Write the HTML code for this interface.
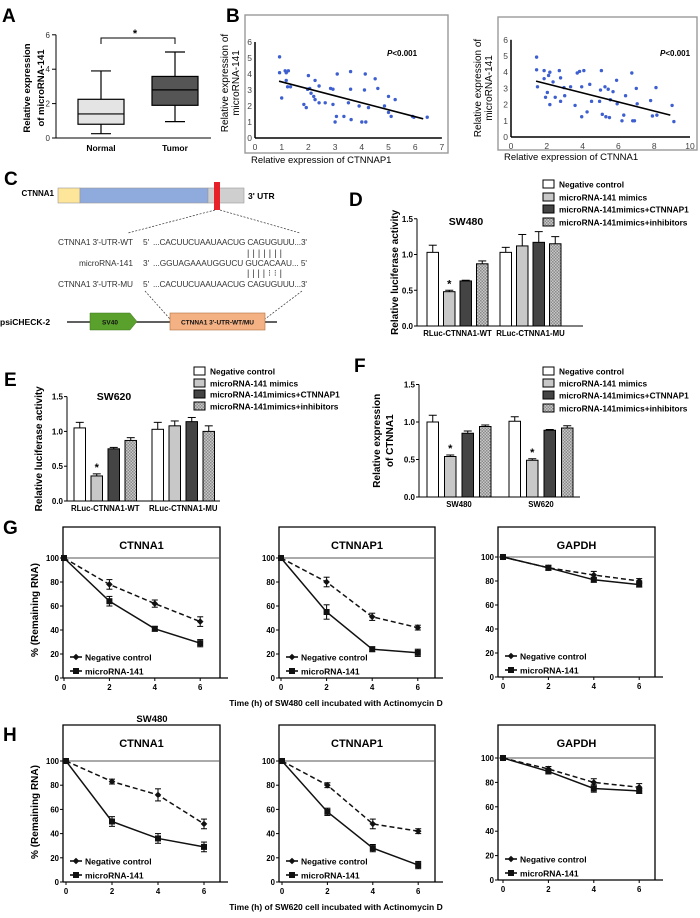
<!DOCTYPE html>
<html><head><meta charset="utf-8">
<style>
body{margin:0;background:#fff}
svg{display:block;font-family:"Liberation Sans",sans-serif}
</style></head>
<body>
<svg id="fig" width="700" height="918" viewBox="0 0 700 918">
<defs>
<pattern id="chk" width="3" height="3" patternUnits="userSpaceOnUse"><rect width="3" height="3" fill="#c8c8c8"/><rect width="1.5" height="1.5" fill="#8a8a8a"/><rect x="1.5" y="1.5" width="1.5" height="1.5" fill="#8a8a8a"/></pattern>
</defs>
<!-- Panel labels -->
<text x="2" y="22" font-size="19" font-weight="bold">A</text>
<text x="226" y="22" font-size="19" font-weight="bold">B</text>
<text x="4" y="185" font-size="19" font-weight="bold">C</text>
<text x="349" y="206" font-size="19" font-weight="bold">D</text>
<text x="4" y="386" font-size="19" font-weight="bold">E</text>
<text x="354" y="372" font-size="19" font-weight="bold">F</text>
<text x="3" y="534" font-size="19" font-weight="bold">G</text>
<text x="3" y="741" font-size="19" font-weight="bold">H</text>

<!-- Panel C diagram -->
<g font-size="8.3" fill="#333">
  <text x="54" y="196" text-anchor="end" font-size="8" font-weight="bold" fill="#000">CTNNA1</text>
  <rect x="58" y="188" width="22" height="15" fill="#fde59a" stroke="#999" stroke-width="0.6"/>
  <rect x="80" y="188" width="128" height="15" fill="#8faadc" stroke="#999" stroke-width="0.6"/>
  <rect x="208" y="188" width="36" height="15" fill="#cfcfcf" stroke="#999" stroke-width="0.6"/>
  <rect x="214" y="182" width="6" height="28" fill="#e8202a"/>
  <text x="248" y="199" font-size="8.5" font-weight="bold" fill="#000">3' UTR</text>
  <line x1="215" y1="210" x2="128" y2="233" stroke="#333" stroke-width="0.7" stroke-dasharray="2,1.5"/>
  <line x1="220" y1="210" x2="300" y2="233" stroke="#333" stroke-width="0.7" stroke-dasharray="2,1.5"/>
  <text x="133" y="245" text-anchor="end" textLength="75">CTNNA1 3'-UTR-WT</text>
  <text x="143" y="245">5'</text>
  <text x="153" y="245" textLength="154">...CACUUCUAAUAACUG CAGUGUUU...3'</text>
  <text x="247" y="256" textLength="35" font-size="9">|||||||</text>
  <text x="133" y="266" text-anchor="end" textLength="54">microRNA-141</text>
  <text x="143" y="266">3'</text>
  <text x="153" y="266" textLength="154">...GGUAGAAAUGGUCU GUCACAAU... 5'</text>
  <text x="247" y="276" textLength="35" font-size="9">||||⁝⁝|</text>
  <text x="133" y="287" text-anchor="end" textLength="75">CTNNA1 3'-UTR-MU</text>
  <text x="143" y="287">5'</text>
  <text x="153" y="287" textLength="154">...CACUUCUAAUAACUG CAGUGUUU...3'</text>
  <line x1="145" y1="291" x2="170" y2="319" stroke="#333" stroke-width="0.7" stroke-dasharray="2,1.5"/>
  <line x1="302" y1="291" x2="265" y2="319" stroke="#333" stroke-width="0.7" stroke-dasharray="2,1.5"/>
  <text x="0" y="325" font-size="8.5" font-weight="bold" fill="#000">psiCHECK-2</text>
  <line x1="67" y1="322" x2="277" y2="322" stroke="#000" stroke-width="1.3"/>
  <polygon points="90,313 130,313 137,321.5 130,330 90,330" fill="#5aa02c" stroke="#3d7a1c" stroke-width="0.5"/>
  <text x="110" y="324.5" font-size="6.5" font-weight="bold" fill="#111" text-anchor="middle">SV40</text>
  <rect x="170" y="313" width="95" height="17" fill="#f4b183" stroke="#b07040" stroke-width="0.6"/>
  <text x="217.5" y="324.5" font-size="6.5" font-weight="bold" fill="#111" text-anchor="middle">CTNNA1 3'-UTR-WT/MU</text>
</g>
</svg>
<script>
// ---------- DATA ----------
// Panel A
const aCats = ['Normal', 'Tumor'];
const aMin = [0.25, 0.95];
const aQ1 = [0.8, 1.9];
const aMed = [1.4, 2.8];
const aQ3 = [2.25, 3.58];
const aMax = [3.9, 5.0];
const aTicks = [0, 2, 4, 6];
// Panel B left
const b1X = [0.92,0.92,1.13,1.25,1.17,1.0,1.17,1.22,1.33,1.97,2.05,2.0,1.83,1.92,2.1,2.2,2.25,2.25,2.4,2.4,2.63,2.83,2.92,2.92,3.0,3.05,3.08,3.33,3.5,3.6,3.58,3.58,3.9,4.0,4.15,4.13,4.1,4.25,4.5,4.6,4.85,5.0,5.0,5.1,5.25,5.9,5.95,6.45];
const b1Y = [5.07,4.08,4.2,4.2,4.08,2.5,3.6,3.2,3.2,3.04,3.1,3.9,2.1,1.9,2.8,2.6,2.4,3.6,3.25,2.2,2.2,3.1,3.05,2.1,1.0,1.35,4.0,1.35,2.2,1.15,4.15,3.05,2.0,1.0,1.0,4.0,3.0,1.9,3.7,3.1,2.0,2.6,1.6,1.35,2.4,1.35,1.3,1.3];
const b1Fit = [0.9, 3.55, 6.3, 1.2];
const b1XTicks = [0,1,2,3,4,5,6,7];
const b1YTicks = [0,1,2,3,4,5,6];
// Panel B right
const b2X = [1.43,1.43,1.85,2.17,1.48,1.85,2.1,1.93,2.03,2.35,2.17,2.47,2.77,2.7,2.77,2.96,3.0,3.33,3.7,3.83,3.58,3.95,4.07,3.95,4.25,4.4,4.5,4.95,5.0,5.05,5.1,5.3,5.25,5.43,5.5,5.55,5.7,5.9,5.93,6.2,6.3,6.4,6.75,6.8,6.9,7.0,7.05,7.8,7.9,8.1,8.15,9.0,9.1];
const b2Y = [4.93,4.15,4.1,4.0,3.1,3.6,3.8,2.45,2.75,3.4,2.0,2.45,3.65,4.1,2.2,3.05,2.55,3.1,3.95,4.05,1.95,3.1,4.1,1.25,1.55,3.25,2.2,2.2,2.9,4.1,1.4,1.25,3.1,2.95,1.2,2.3,2.8,3.5,2.05,1.0,1.35,2.55,3.95,1.0,1.0,3.0,2.05,2.25,1.3,3.05,1.35,1.95,0.95];
const b2Fit = [1.4, 3.45, 8.9, 1.35];
const b2XTicks = [0,2,4,6,8,10];
const b2YTicks = [0,1,2,3,4,5,6];
// Bar charts
const legendLabels = ['Negative control','microRNA-141 mimics','microRNA-141mimics+CTNNAP1','microRNA-141mimics+inhibitors'];
const barTicks = [0, 0.5, 1.0, 1.5];
const dCats = ['RLuc-CTNNA1-WT','RLuc-CTNNA1-MU'];
const dNC = [1.03, 1.03], dNCe = [0.1, 0.07];
const dMim = [0.48, 1.12], dMime = [0.02, 0.16];
const dCt = [0.63, 1.17], dCte = [0.01, 0.15];
const dInh = [0.87, 1.15], dInhe = [0.04, 0.1];
const eCats = ['RLuc-CTNNA1-WT','RLuc-CTNNA1-MU'];
const eNC = [1.05, 1.03], eNCe = [0.08, 0.1];
const eMim = [0.36, 1.08], eMime = [0.03, 0.07];
const eCt = [0.75, 1.14], eCte = [0.02, 0.06];
const eInh = [0.87, 1.0], eInhe = [0.04, 0.08];
const fCats = ['SW480','SW620'];
const fNC = [1.0, 1.01], fNCe = [0.09, 0.06];
const fMim = [0.54, 0.49], fMime = [0.02, 0.02];
const fCt = [0.85, 0.89], fCte = [0.03, 0.01];
const fInh = [0.94, 0.92], fInhe = [0.02, 0.03];
// Line charts
const hours = [0, 2, 4, 6];
const lineYTicks = [0, 20, 40, 60, 80, 100];
const g1NC = [100,78,62,47], g1NCe = [0,4,3,4], g1Mi = [100,64,41,29], g1Mie = [0,4,2,3];
const g2NC = [100,80,51,42], g2NCe = [0,4,3,2], g2Mi = [100,55,24,21], g2Mie = [0,6,2,3];
const g3NC = [100,91,85,80], g3NCe = [0,2,3,2], g3Mi = [100,91,81,77], g3Mie = [0,2,2,2];
const h1NC = [100,83,72,48], h1NCe = [0,2,5,4], h1Mi = [100,50,36,29], h1Mie = [0,4,4,4];
const h2NC = [100,80,48,42], h2NCe = [0,2,4,2], h2Mi = [100,58,28,14], h2Mie = [0,3,3,3];
const h3NC = [100,91,80,76], h3NCe = [0,2,3,3], h3Mi = [100,89,75,73], h3Mie = [0,2,3,2];

// ---------- HELPERS ----------
const NS = 'http://www.w3.org/2000/svg';
const svg = document.getElementById('fig');
function mk(tag, attrs, parent) {
  const e = document.createElementNS(NS, tag);
  for (const k in attrs) e.setAttribute(k, attrs[k]);
  (parent || svg).appendChild(e);
  return e;
}
function grp(name) {
  const g = mk('g', {});
  
  
  return g;
}
function ln(p, x1, y1, x2, y2, sw, name, extra) {
  const a = {x1:x1, y1:y1, x2:x2, y2:y2, stroke:'#000', 'stroke-width':sw||1};
  if (extra) for (const k in extra) a[k] = extra[k];
  const e = mk('line', a, p);
  
  
  return e;
}
function tx(p, x, y, s, size, name, anchor, bold, fill, rot) {
  const e = mk('text', {x:x, y:y, 'font-size':size, 'text-anchor':anchor||'start', 'font-weight':bold?'bold':'normal', fill:fill||'#000'}, p);
  if (rot) e.setAttribute('transform', 'rotate(-90 ' + x + ' ' + y + ')');
  e.textContent = s;
  
  
  return e;
}

// ---------- PANEL A ----------
(function(){
  const g = grp('panel-a-boxplot');
  const yA = v => 138 - 17.2 * v;
  const xA = i => 101 + 74 * i;
  ln(g, 56, yA(6), 56, 138, 1, 'y-axis');
  ln(g, 56, 138, 211, 138, 1, 'x-axis');
  aTicks.forEach(t => {
    ln(g, 52, yA(t), 56, yA(t), 1, 'y-tick');
    tx(g, 50, yA(t) + 3, String(t), 8, 'y-tick-label', 'end', false, '#333');
  });
  aCats.forEach((c, i) => {
    const x = xA(i), w = 46;
    ln(g, x, yA(aMax[i]), x, yA(aQ3[i]), 1.2, 'whisker-upper');
    ln(g, x, yA(aQ1[i]), x, yA(aMin[i]), 1.2, 'whisker-lower');
    ln(g, x - 10, yA(aMax[i]), x + 10, yA(aMax[i]), 1.2, 'whisker-cap');
    ln(g, x - 10, yA(aMin[i]), x + 10, yA(aMin[i]), 1.2, 'whisker-cap');
    const r = mk('rect', {x:x - w/2, y:yA(aQ3[i]), width:w, height:yA(aQ1[i]) - yA(aQ3[i]), fill:i ? '#555' : '#e4e4e4', stroke:'#000', 'stroke-width':1.2}, g);
    
    
    ln(g, x - w/2, yA(aMed[i]), x + w/2, yA(aMed[i]), 1.2, 'median-line');
    tx(g, x, 151, c, 8.5, 'x-category-label', 'middle', true);
  });
  const br = mk('path', {d:'M' + xA(0) + ' 44V38H' + xA(1) + 'V44', fill:'none', stroke:'#000', 'stroke-width':1}, g);
  
  
  tx(g, 135, 37, '*', 11, 'significance-star', 'middle', true);
  tx(g, 30, 88, 'Relative expression', 9.5, 'y-axis-title', 'middle', true, '#000', true);
  tx(g, 44, 88, 'of microRNA-141', 9.5, 'y-axis-title', 'middle', true, '#000', true);
})();

// ---------- PANEL B ----------
function scatter(name, frame, ax, xs, ys, fit, xt, yt, xlab, ylabX, xlabY, ylabY) {
  const g = grp(name);
  const fr = mk('rect', {x:frame[0], y:frame[1], width:frame[2], height:frame[3], fill:'none', stroke:'#999', 'stroke-width':1.4}, g);
  
  
  const X = v => ax.x0 + ax.sx * v, Y = v => ax.y0 - ax.sy * v;
  ln(g, X(0), Y(yt[yt.length-1]), X(0), Y(0), 1.5, 'y-axis');
  ln(g, X(0), Y(0), X(xt[xt.length-1]), Y(0), 1.5, 'x-axis');
  yt.forEach(t => {
    tx(g, X(0) - 3, Y(t) + 3, String(t), 8.5, 'y-tick-label', 'end', false, '#444');
  });
  xt.forEach(t => {
    tx(g, X(t), Y(0) + 12, String(t), 8.5, 'x-tick-label', 'middle', false, '#444');
  });
  xs.forEach((v, i) => {
    const c = mk('circle', {cx:X(v), cy:Y(ys[i]), r:1.7, fill:'#3d5fcf'}, g);
    
    
  });
  ln(g, X(fit[0]), Y(fit[1]), X(fit[2]), Y(fit[3]), 1.6, 'regression-line');
  const p = tx(g, ax.px, 56, '', 8, 'p-value-label', 'start', true);
  p.innerHTML = '<tspan font-style="italic">P</tspan>&lt;0.001';
  tx(g, ylabX, ylabY, 'Relative expression of', 10, 'y-axis-title', 'middle', false, '#000', true);
  tx(g, ylabX + 11, ylabY, 'microRNA-141', 10, 'y-axis-title', 'middle', false, '#000', true);
  tx(g, frame[0] + 6, xlabY, xlab, 9.5, 'x-axis-title', 'start', false);
}
scatter('panel-b-scatter-ctnnap1', [245, 15, 203, 138], {x0:255, sx:26.7, y0:138, sy:16, px:387}, b1X, b1Y, b1Fit, b1XTicks, b1YTicks, 'Relative expression of CTNNAP1', 228, 163, 83);
scatter('panel-b-scatter-ctnna1', [498, 17, 199, 133], {x0:511, sx:17.9, y0:137, sy:16.2, px:660}, b2X, b2Y, b2Fit, b2XTicks, b2YTicks, 'Relative expression of CTNNA1', 481, 160, 88);

// ---------- BAR CHARTS ----------
const barFills = ['#fff', '#c8c8c8', '#444', 'url(#chk)'];
function legend(g, x, ys) {
  legendLabels.forEach((l, i) => {
    const r = mk('rect', {x:x, y:ys[i] - 4, width:11, height:8, fill:barFills[i], stroke:'#000', 'stroke-width':1}, g);
    
    
    tx(g, x + 16, ys[i] + 3.5, l, 8.3, 'legend-entry', 'start', true);
  });
}
function barChart(name, ax, cats, vals, errs, starIdx, title, ylab, legX, legYs) {
  const g = grp(name);
  const Y = v => ax.y0 - ax.s * v;
  ln(g, ax.x, Y(1.5), ax.x, ax.y0, 1, 'y-axis');
  ln(g, ax.x, ax.y0, ax.xe, ax.y0, 1, 'x-axis');
  barTicks.forEach(t => {
    ln(g, ax.x - 3, Y(t), ax.x, Y(t), 1, 'y-tick');
    tx(g, ax.x - 4, Y(t) + 3, t.toFixed(1), 8, 'y-tick-label', 'end', true);
  });
  cats.forEach((c, gi) => {
    const gx = ax.g[gi];
    vals.forEach((arr, si) => {
      const x = gx + si * ax.step, v = arr[gi], e = errs[si][gi];
      const r = mk('rect', {x:x, y:Y(v), width:ax.w, height:ax.y0 - Y(v), fill:barFills[si], stroke:'#000', 'stroke-width':1}, g);
      
      
      ln(g, x + ax.w/2, Y(v), x + ax.w/2, Y(v + e), 1, 'error-bar');
      ln(g, x + ax.w/2 - 4, Y(v + e), x + ax.w/2 + 4, Y(v + e), 1, 'error-cap');
      if (si === 1 && starIdx.indexOf(gi) >= 0) tx(g, x + ax.w/2, Y(v + e) - 3, '*', 11, 'significance-star', 'middle', true);
    });
    tx(g, gx + (ax.step * 3 + ax.w) / 2, ax.y0 + 10, c, 7.8, 'x-category-label', 'middle', true);
  });
  if (title) tx(g, title[0], title[1], title[2], 10.5, 'chart-title', 'middle', true);
  ylab.forEach(l => tx(g, l[0], ax.y0 - 0.75 * ax.s, l[1], 10, 'y-axis-title', 'middle', true, '#000', true));
  legend(g, legX, legYs);
}
barChart('panel-d-luciferase-sw480', {x:417, xe:583, y0:326, s:71.5, g:[427, 500], step:16.5, w:11.5}, dCats,
  [dNC, dMim, dCt, dInh], [dNCe, dMime, dCte, dInhe], [0], [466, 225, 'SW480'], [[398, 'Relative luciferase activity']], 543, [184, 197, 209, 222]);
barChart('panel-e-luciferase-sw620', {x:67, xe:220, y0:501, s:69.6, g:[74, 152], step:17, w:11.5}, eCats,
  [eNC, eMim, eCt, eInh], [eNCe, eMime, eCte, eInhe], [0], [114, 400, 'SW620'], [[42, 'Relative luciferase activity']], 194, [371, 383, 394, 406]);
barChart('panel-f-ctnna1-expression', {x:419, xe:580, y0:497, s:75, g:[427, 509], step:17.5, w:11.5}, fCats,
  [fNC, fMim, fCt, fInh], [fNCe, fMime, fCte, fInhe], [0, 1], null, [[380, 'Relative expression'], [393, 'of CTNNA1']], 543, [371, 383, 395, 408]);

// ---------- LINE CHARTS ----------
function marker(g, x, y, sq) {
  const e = sq ? mk('rect', {x:x - 3, y:y - 3, width:6, height:6, fill:'#111'}, g)
               : mk('polygon', {points:(x)+','+(y-3.3)+' '+(x+3.3)+','+y+' '+x+','+(y+3.3)+' '+(x-3.3)+','+y, fill:'#111'}, g);
  
  
}
function lineChart(name, f, ax, title, nc, nce, mi, mie) {
  const g = grp(name);
  const X = t => ax.x0 + ax.sx * t, Y = v => ax.y0 - ax.sy * v;
  const fr = mk('path', {d:'M' + f.l + ' ' + ax.y0 + 'V' + f.t + 'H' + f.r + 'V' + ax.y0, fill:'none', stroke:'#000', 'stroke-width':1.3}, g);
  
  
  ln(g, f.l, Y(100), f.r, Y(100), 1, 'reference-line-100', {stroke:'#555'});
  ln(g, f.l, ax.y0, f.r + 8, ax.y0, 1.3, 'x-axis');
  lineYTicks.forEach(t => {
    ln(g, f.l - 3, Y(t), f.l, Y(t), 1, 'y-tick');
    tx(g, f.l - 4, Y(t) + 3, String(t), 7.8, 'y-tick-label', 'end', true);
  });
  hours.forEach(h => {
    ln(g, X(h), ax.y0, X(h), ax.y0 + 3, 1, 'x-tick');
    tx(g, X(h), ax.y0 + 12, String(h), 7.8, 'x-tick-label', 'middle', true);
  });
  tx(g, (f.l + f.r) / 2, f.t + 22, title, 11, 'subplot-title', 'middle', true);
  [[nc, nce, false], [mi, mie, true]].forEach(s => {
    const pl = mk('polyline', {points:hours.map((h, i) => X(h) + ',' + Y(s[0][i])).join(' '), fill:'none', stroke:'#111', 'stroke-width':1.5, 'stroke-dasharray':s[2] ? 'none' : '5,3'}, g);
    
    
    hours.forEach((h, i) => {
      const e = s[1][i];
      if (e > 0) {
        ln(g, X(h), Y(s[0][i] + e), X(h), Y(s[0][i] - e), 1, 'error-bar');
        ln(g, X(h) - 3, Y(s[0][i] + e), X(h) + 3, Y(s[0][i] + e), 1, 'error-cap');
        ln(g, X(h) - 3, Y(s[0][i] - e), X(h) + 3, Y(s[0][i] - e), 1, 'error-cap');
      }
      marker(g, X(h), Y(s[0][i]), s[2]);
    });
  });
  const ly = [ax.y0 - 21, ax.y0 - 7];
  ['Negative control', 'microRNA-141'].forEach((l, i) => {
    ln(g, f.l + 7, ly[i], f.l + 19, ly[i], 1.5, 'legend-line');
    marker(g, f.l + 13, ly[i], i === 1);
    tx(g, f.l + 22, ly[i] + 3.5, l, 8.5, 'legend-entry', 'start', true);
  });
}
lineChart('panel-g-ctnna1', {l:63, r:220, t:527}, {x0:64, sx:22.7, y0:678, sy:1.2}, 'CTNNA1', g1NC, g1NCe, g1Mi, g1Mie);
lineChart('panel-g-ctnnap1', {l:279, r:435, t:527}, {x0:281, sx:22.8, y0:678, sy:1.2}, 'CTNNAP1', g2NC, g2NCe, g2Mi, g2Mie);
lineChart('panel-g-gapdh', {l:498, r:655, t:527}, {x0:503, sx:22.7, y0:677, sy:1.2}, 'GAPDH', g3NC, g3NCe, g3Mi, g3Mie);
lineChart('panel-h-ctnna1', {l:63, r:220, t:725}, {x0:66, sx:23, y0:882, sy:1.21}, 'CTNNA1', h1NC, h1NCe, h1Mi, h1Mie);
lineChart('panel-h-ctnnap1', {l:279, r:435, t:725}, {x0:282, sx:22.7, y0:882, sy:1.21}, 'CTNNAP1', h2NC, h2NCe, h2Mi, h2Mie);
lineChart('panel-h-gapdh', {l:498, r:655, t:725}, {x0:503, sx:22.7, y0:880, sy:1.22}, 'GAPDH', h3NC, h3NCe, h3Mi, h3Mie);

const ga = grp('line-chart-axis-titles');
tx(ga, 38, 610, '% (Remaining RNA)', 10, 'g-y-axis-title', 'middle', true, '#000', true);
tx(ga, 38, 812, '% (Remaining RNA)', 10, 'h-y-axis-title', 'middle', true, '#000', true);
tx(ga, 336, 706, 'Time (h) of SW480 cell incubated with Actinomycin D', 8.5, 'g-x-axis-title', 'middle', true);
tx(ga, 336, 910, 'Time (h) of SW620 cell incubated with Actinomycin D', 8.5, 'h-x-axis-title', 'middle', true);
tx(ga, 152, 722, 'SW480', 9.5, 'h-stray-label', 'middle', true);
</script>
</body></html>
